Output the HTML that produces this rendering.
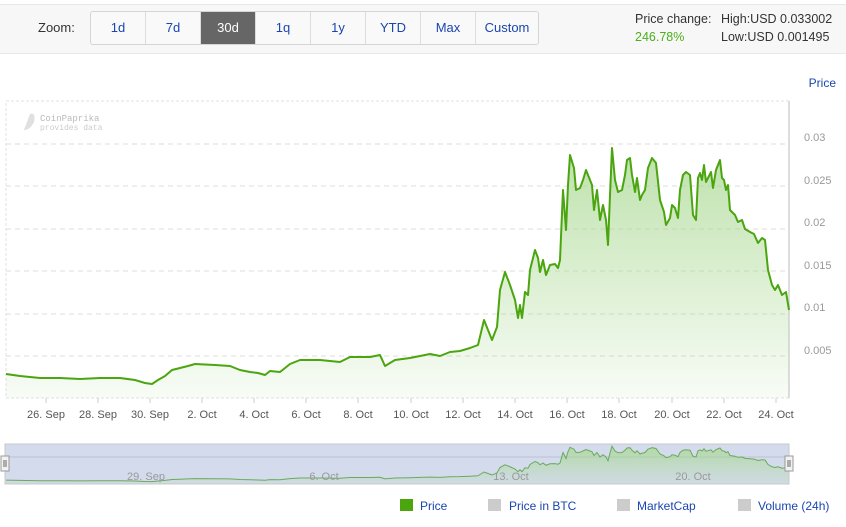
<!DOCTYPE html>
<html><head><meta charset="utf-8"><style>
body{margin:0;width:846px;height:527px;background:#fff;font-family:"Liberation Sans",sans-serif;position:relative;overflow:hidden}
.bar{position:absolute;left:0;top:4px;width:846px;height:48px;background:#f7f7f7;border-top:1px solid #e8e8e8;border-bottom:1px solid #e8e8e8}
.zl{position:absolute;left:38px;top:20px;font-size:13px;color:#333}
.btns{position:absolute;left:90px;top:11px;height:32px;border:1px solid #d5d5d5;border-radius:3px;display:flex;background:#f9f9f9}
.btns div{width:54px;border-right:1px solid #ddd;text-align:center;line-height:32px;font-size:13px;color:#1a46b0}
.btns div:last-child{border-right:none;width:62px}
.btns .a{background:#666;color:#fff}
.t{position:absolute;font-size:12.5px;color:#333}
</style></head><body>
<div class="bar"></div>
<div class="zl">Zoom:</div>
<div class="btns"><div>1d</div><div>7d</div><div class="a">30d</div><div>1q</div><div>1y</div><div>YTD</div><div>Max</div><div>Custom</div></div>
<div class="t" style="left:635px;top:12px">Price change:</div>
<div class="t" style="left:635px;top:30px;color:#4caf1a">246.78%</div>
<div class="t" style="left:721px;top:12px">High:USD 0.033002</div>
<div class="t" style="left:721px;top:30px">Low:USD 0.001495</div>
<svg width="846" height="527" style="position:absolute;left:0;top:0" font-family="Liberation Sans, sans-serif">
<defs><linearGradient id="g" x1="0" y1="0" x2="0" y2="1"><stop offset="0" stop-color="#a8d890" stop-opacity=".75"/><stop offset="1" stop-color="#a8d890" stop-opacity=".08"/></linearGradient>
<linearGradient id="g2" x1="0" y1="0" x2="0" y2="1"><stop offset="0" stop-color="#7bb87a" stop-opacity=".5"/><stop offset="1" stop-color="#7bb87a" stop-opacity=".1"/></linearGradient></defs>
<text x="836" y="87" font-size="12" fill="#1a46b0" text-anchor="end">Price</text>
<rect x="6" y="101" width="783" height="297" fill="none" stroke="#e0e0e0" stroke-dasharray="3,2"/>
<line x1="789" y1="101" x2="789" y2="398" stroke="#ddd" stroke-width="2"/>
<g stroke="#ddd" stroke-dasharray="5,4"><line x1="6" x2="789" y1="144" y2="144"/><line x1="6" x2="789" y1="186" y2="186"/><line x1="6" x2="789" y1="229" y2="229"/><line x1="6" x2="789" y1="271" y2="271"/><line x1="6" x2="789" y1="314" y2="314"/><line x1="6" x2="789" y1="356" y2="356"/></g>
<g font-size="11" fill="#999"><text x="804" y="141">0.03</text><text x="804" y="184">0.025</text><text x="804" y="226">0.02</text><text x="804" y="269">0.015</text><text x="804" y="311">0.01</text><text x="804" y="354">0.005</text></g>
<text x="40" y="121" font-size="9" fill="#bbb" font-family="Liberation Mono, monospace">CoinPaprika</text>
<text x="40" y="130" font-size="8" fill="#ccc" font-family="Liberation Mono, monospace">provides data</text>
<path d="M30 114 q6 -2 4 8 q-4 8 -10 8" fill="#e0e0e0"/>
<path id="area" d="M6,374 L20,376 40,378 60,378 80,379 100,378 120,378 135,380 145,383 152,384 158,380 165,376 172,370 180,368 188,366 195,364 215,365 230,366 240,370 250,372 258,373 265,375 270,371 280,372 290,364 300,360 320,360 340,362 350,357 370,357 380,355 385,366 395,360 410,358 420,356 430,354 440,356 450,352 460,351 470,348 478,345 484,320 488,330 492,340 497,327 500,290 505,272 510,285 515,300 518,318 520,305 522,318 525,292 528,295 530,270 535,250 538,258 540,272 543,260 546,275 550,265 555,264 558,268 560,260 563,190 566,230 568,185 570,155 574,168 576,190 580,188 583,180 586,170 590,180 592,185 594,210 597,190 600,220 603,205 606,220 608,245 610,195 612,148 615,180 618,192 622,190 625,175 627,160 630,158 632,175 635,192 637,178 640,200 642,195 645,190 648,168 652,158 656,163 660,200 664,212 666,225 670,218 672,205 675,208 678,218 680,190 683,175 686,172 690,175 693,215 696,220 698,178 700,173 702,180 704,165 706,182 708,178 711,172 713,188 716,170 720,160 722,178 724,180 726,190 728,185 730,210 735,215 738,222 742,220 745,229 750,232 754,234 758,243 762,238 765,240 768,270 772,285 775,290 778,285 782,295 786,292 789,310 L789,398 L6,398Z" fill="url(#g)"/>
<polyline fill="none" stroke="#4aa50f" stroke-width="2" stroke-linejoin="round" points="6,374 20,376 40,378 60,378 80,379 100,378 120,378 135,380 145,383 152,384 158,380 165,376 172,370 180,368 188,366 195,364 215,365 230,366 240,370 250,372 258,373 265,375 270,371 280,372 290,364 300,360 320,360 340,362 350,357 370,357 380,355 385,366 395,360 410,358 420,356 430,354 440,356 450,352 460,351 470,348 478,345 484,320 488,330 492,340 497,327 500,290 505,272 510,285 515,300 518,318 520,305 522,318 525,292 528,295 530,270 535,250 538,258 540,272 543,260 546,275 550,265 555,264 558,268 560,260 563,190 566,230 568,185 570,155 574,168 576,190 580,188 583,180 586,170 590,180 592,185 594,210 597,190 600,220 603,205 606,220 608,245 610,195 612,148 615,180 618,192 622,190 625,175 627,160 630,158 632,175 635,192 637,178 640,200 642,195 645,190 648,168 652,158 656,163 660,200 664,212 666,225 670,218 672,205 675,208 678,218 680,190 683,175 686,172 690,175 693,215 696,220 698,178 700,173 702,180 704,165 706,182 708,178 711,172 713,188 716,170 720,160 722,178 724,180 726,190 728,185 730,210 735,215 738,222 742,220 745,229 750,232 754,234 758,243 762,238 765,240 768,270 772,285 775,290 778,285 782,295 786,292 789,310"/>
<g stroke="#ccc"><line x1="46" x2="46" y1="398" y2="403"/><line x1="98" x2="98" y1="398" y2="403"/><line x1="150" x2="150" y1="398" y2="403"/><line x1="202" x2="202" y1="398" y2="403"/><line x1="254" x2="254" y1="398" y2="403"/><line x1="306" x2="306" y1="398" y2="403"/><line x1="358" x2="358" y1="398" y2="403"/><line x1="411" x2="411" y1="398" y2="403"/><line x1="463" x2="463" y1="398" y2="403"/><line x1="515" x2="515" y1="398" y2="403"/><line x1="567" x2="567" y1="398" y2="403"/><line x1="619" x2="619" y1="398" y2="403"/><line x1="672" x2="672" y1="398" y2="403"/><line x1="724" x2="724" y1="398" y2="403"/><line x1="776" x2="776" y1="398" y2="403"/></g>
<g font-size="11" fill="#555" text-anchor="middle"><text x="46" y="418">26. Sep</text><text x="98" y="418">28. Sep</text><text x="150" y="418">30. Sep</text><text x="202" y="418">2. Oct</text><text x="254" y="418">4. Oct</text><text x="306" y="418">6. Oct</text><text x="358" y="418">8. Oct</text><text x="411" y="418">10. Oct</text><text x="463" y="418">12. Oct</text><text x="515" y="418">14. Oct</text><text x="567" y="418">16. Oct</text><text x="619" y="418">18. Oct</text><text x="672" y="418">20. Oct</text><text x="724" y="418">22. Oct</text><text x="776" y="418">24. Oct</text></g>
<rect x="5" y="444" width="784" height="40" fill="#d3dbec" stroke="#c8c8c8"/>
<line x1="5" x2="789" y1="457" y2="457" stroke="#b8c0d4"/>
<g transform="translate(0,424) scale(1,0.15)"><use href="#area" fill="url(#g2)"/><polyline fill="none" stroke="#6aaa5a" stroke-width="1" vector-effect="non-scaling-stroke" points="6,374 20,376 40,378 60,378 80,379 100,378 120,378 135,380 145,383 152,384 158,380 165,376 172,370 180,368 188,366 195,364 215,365 230,366 240,370 250,372 258,373 265,375 270,371 280,372 290,364 300,360 320,360 340,362 350,357 370,357 380,355 385,366 395,360 410,358 420,356 430,354 440,356 450,352 460,351 470,348 478,345 484,320 488,330 492,340 497,327 500,290 505,272 510,285 515,300 518,318 520,305 522,318 525,292 528,295 530,270 535,250 538,258 540,272 543,260 546,275 550,265 555,264 558,268 560,260 563,190 566,230 568,185 570,155 574,168 576,190 580,188 583,180 586,170 590,180 592,185 594,210 597,190 600,220 603,205 606,220 608,245 610,195 612,148 615,180 618,192 622,190 625,175 627,160 630,158 632,175 635,192 637,178 640,200 642,195 645,190 648,168 652,158 656,163 660,200 664,212 666,225 670,218 672,205 675,208 678,218 680,190 683,175 686,172 690,175 693,215 696,220 698,178 700,173 702,180 704,165 706,182 708,178 711,172 713,188 716,170 720,160 722,178 724,180 726,190 728,185 730,210 735,215 738,222 742,220 745,229 750,232 754,234 758,243 762,238 765,240 768,270 772,285 775,290 778,285 782,295 786,292 789,310"/></g>
<g font-size="11" fill="#999" text-anchor="middle"><text x="146" y="480">29. Sep</text><text x="324" y="480">6. Oct</text><text x="511" y="480">13. Oct</text><text x="693" y="480">20. Oct</text></g>
<rect x="1" y="456" width="8" height="15" fill="#f2f2f2" stroke="#999"/><line x1="4" x2="4" y1="460" y2="467" stroke="#666"/><line x1="6" x2="6" y1="460" y2="467" stroke="#666"/>
<rect x="785" y="456" width="8" height="15" fill="#f2f2f2" stroke="#999"/><line x1="788" x2="788" y1="460" y2="467" stroke="#666"/><line x1="790" x2="790" y1="460" y2="467" stroke="#666"/>
<g font-size="12" fill="#1a46b0"><rect x="400" y="499" width="13" height="12" fill="#4aa50f"/><text x="420" y="510">Price</text>
<rect x="488" y="499" width="13" height="12" fill="#ccc"/><text x="509" y="510">Price in BTC</text>
<rect x="617" y="499" width="13" height="12" fill="#ccc"/><text x="637" y="510">MarketCap</text>
<rect x="738" y="499" width="13" height="12" fill="#ccc"/><text x="758" y="510">Volume (24h)</text></g>
</svg>
</body></html>
